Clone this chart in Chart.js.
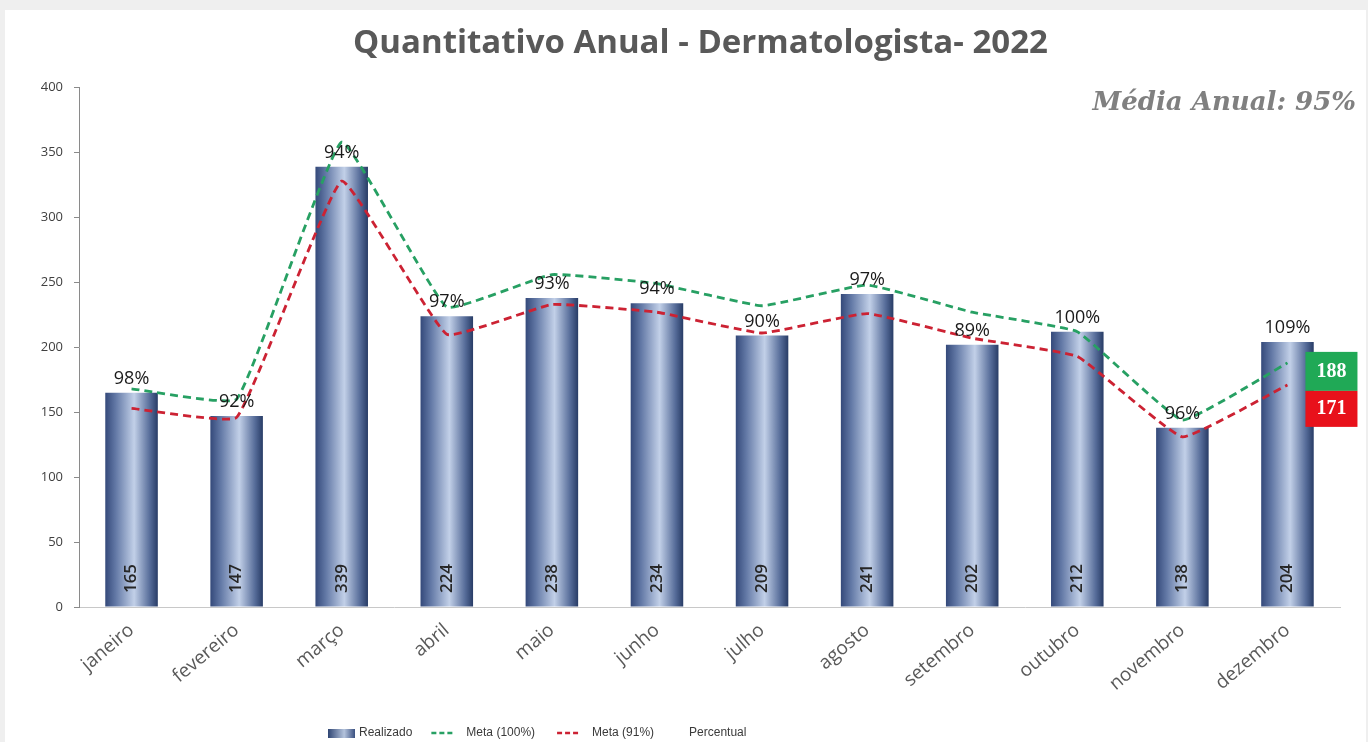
<!DOCTYPE html>
<html><head><meta charset="utf-8">
<script src="https://cdn.jsdelivr.net/npm/chart.js@4.4.1/dist/chart.umd.min.js"></script>
<style>
html,body{margin:0;padding:0;background:#efefef;overflow:hidden;width:1368px;height:742px}
#wrap{position:absolute;left:5px;top:10px;width:1361px;height:732px;background:#fff}
canvas{display:block}
</style></head><body><div id="wrap"><canvas id="c" width="1361" height="732"></canvas></div>
<script>
const titleText = 'Quantitativo Anual - Dermatologista- 2022';
const mediaAnual = 'Média Anual: 95%';
const months = ['janeiro','fevereiro','março','abril','maio','junho','julho','agosto','setembro','outubro','novembro','dezembro'];
const realizado = [165,147,339,224,238,234,209,241,202,212,138,204];
const meta100 = [168,160,358,231,256,249,232,248,227,212,144,188];
const meta91 = [153,146,328,210,233,227,211,226,207,193,131,171];
const percentual = [98,92,94,97,93,94,90,97,89,100,96,109];
const yTicks = [0,50,100,150,200,250,300,350,400];
const legendNames = ['Realizado','Meta (100%)','Meta (91%)','Percentual'];

const GREEN = '#27a063', RED = '#cc2233';
const BAR_PCT = 0.5;

function barGradient(ctx){
  const chart = ctx.chart, xs = chart.scales && chart.scales.x;
  if(!xs || ctx.dataIndex === undefined || !xs.width) return '#5b7099';
  const c = xs.getPixelForValue(ctx.dataIndex);
  const w = xs.width / months.length * BAR_PCT;
  const g = chart.ctx.createLinearGradient(c - w/2, 0, c + w/2, 0);
  g.addColorStop(0, '#34497a');
  g.addColorStop(0.2, '#6379a6');
  g.addColorStop(0.55, '#c2d0e8');
  g.addColorStop(0.85, '#566c99');
  g.addColorStop(1, '#283c66');
  return g;
}

const labelsPlugin = {
  id: 'labelsPlugin',
  afterLayout(chart){
    const tb = chart.titleBlock;
    if (tb) { tb.left += 28; tb.right += 28; }
  },
  afterDatasetsDraw(chart){
    const ctx = chart.ctx;
    const bars = chart.getDatasetMeta(0).data;
    ctx.save();
    ctx.font = '600 17px "Open Sans", sans-serif';
    ctx.fillStyle = '#262626';
    ctx.textAlign = 'center'; ctx.textBaseline = 'middle';
    bars.forEach((b, i) => {
      ctx.save();
      ctx.translate(b.x, b.base - 28);
      ctx.rotate(-Math.PI/2);
      ctx.fillText(String(realizado[i]), 0, 0);
      ctx.restore();
    });
    ctx.font = '18px "Open Sans", sans-serif';
    ctx.fillStyle = '#1a1a1a';
    ctx.textBaseline = 'bottom';
    bars.forEach((b, i) => {
      ctx.fillText(percentual[i] + '%', b.x, b.y - 5);
    });
    const g = chart.getDatasetMeta(1).data;
    const gl = g[g.length-1];
    const bx = gl.x + 18, bw = 52;
    ctx.font = 'bold 20px "Liberation Serif", serif';
    ctx.textBaseline = 'middle';
    ctx.fillStyle = '#20a956';
    ctx.fillRect(bx, gl.y - 11, bw, 39);
    ctx.fillStyle = '#fff';
    ctx.fillText(String(meta100[meta100.length-1]), bx + bw/2, gl.y + 9);
    ctx.fillStyle = '#e8111b';
    ctx.fillRect(bx, gl.y + 28, bw, 36);
    ctx.fillStyle = '#fff';
    ctx.fillText(String(meta91[meta91.length-1]), bx + bw/2, gl.y + 46);
    ctx.restore();
  },
  afterDraw(chart){
    const ctx = chart.ctx;
    ctx.save();
    ctx.font = 'italic bold 26px "DejaVu Serif", serif';
    ctx.fillStyle = '#808080';
    ctx.textAlign = 'right'; ctx.textBaseline = 'middle';
    ctx.fillText(mediaAnual, 1351, 93);
    const y = 723;
    let x = 323;
    ctx.font = '12px "Liberation Sans", sans-serif';
    ctx.textAlign = 'left'; ctx.textBaseline = 'middle';
    const sg = ctx.createLinearGradient(x, 0, x + 27, 0);
    sg.addColorStop(0, '#2f4573'); sg.addColorStop(0.6, '#b4c3dc'); sg.addColorStop(1, '#3a5080');
    ctx.fillStyle = sg; ctx.fillRect(x, y - 4, 27, 9);
    x += 31; ctx.fillStyle = '#3a3a3a';
    ctx.fillText(legendNames[0], x, y); x += ctx.measureText(legendNames[0]).width + 19;
    const drawDash = (col) => {
      ctx.save(); ctx.strokeStyle = col; ctx.lineWidth = 2.5; ctx.setLineDash([5,3]);
      ctx.beginPath(); ctx.moveTo(x, y); ctx.lineTo(x + 23, y); ctx.stroke(); ctx.restore();
      x += 35;
    };
    drawDash(GREEN);
    ctx.fillText(legendNames[1], x, y); x += ctx.measureText(legendNames[1]).width + 22;
    drawDash(RED);
    ctx.fillText(legendNames[2], x, y); x += ctx.measureText(legendNames[2]).width + 35;
    ctx.fillText(legendNames[3], x, y);
    ctx.restore();
  }
};

new Chart(document.getElementById('c'), {
  data: {
    labels: months,
    datasets: [
      { type: 'bar', label: legendNames[0], data: realizado, backgroundColor: barGradient,
        barPercentage: BAR_PCT, categoryPercentage: 1, order: 3 },
      { type: 'line', label: legendNames[1], data: meta100, borderColor: GREEN, borderWidth: 2.8,
        borderDash: [8,5], pointRadius: 0, tension: 0.1, fill: false, order: 1 },
      { type: 'line', label: legendNames[2], data: meta91, borderColor: RED, borderWidth: 2.8,
        borderDash: [8,5], pointRadius: 0, tension: 0.1, fill: false, order: 2 },
      { type: 'line', label: legendNames[3], data: percentual, yAxisID: 'yPct', showLine: false,
        pointRadius: 0, borderColor: 'rgba(0,0,0,0)', backgroundColor: 'rgba(0,0,0,0)', order: 0 }
    ]
  },
  options: {
    responsive: false,
    animation: false,
    layout: { padding: { left: 0, right: 26, top: 8, bottom: 35 } },
    plugins: {
      legend: { display: false },
      tooltip: { enabled: false },
      title: { display: true, text: titleText, color: '#595959',
        font: { family: '"Open Sans", sans-serif', size: 33, weight: 'bold', lineHeight: 1.2 },
        padding: { top: 6, bottom: 24 } }
    },
    scales: {
      x: {
        grid: { display: false },
        border: { display: true, color: '#c8c8c8', width: 1 },
        ticks: { color: '#595959', font: { family: '"Open Sans", sans-serif', size: 19 },
          minRotation: 40, maxRotation: 40, padding: 4, autoSkip: false },
        afterFit(s){ s.height = 100; }
      },
      y: {
        min: 0, max: 400,
        afterBuildTicks(s){ s.ticks = yTicks.map(v => ({ value: v })); },
        grid: { drawOnChartArea: false, color: '#8a8a8a', tickLength: 5 },
        border: { display: true, color: '#8a8a8a', width: 1 },
        ticks: { color: '#404040', font: { family: '"Open Sans", sans-serif', size: 13 }, padding: 11 },
        afterFit(s){ s.width = 74; }
      },
      yPct: { display: false, min: 0, max: 400 }
    }
  },
  plugins: [labelsPlugin]
});
</script></body></html>
